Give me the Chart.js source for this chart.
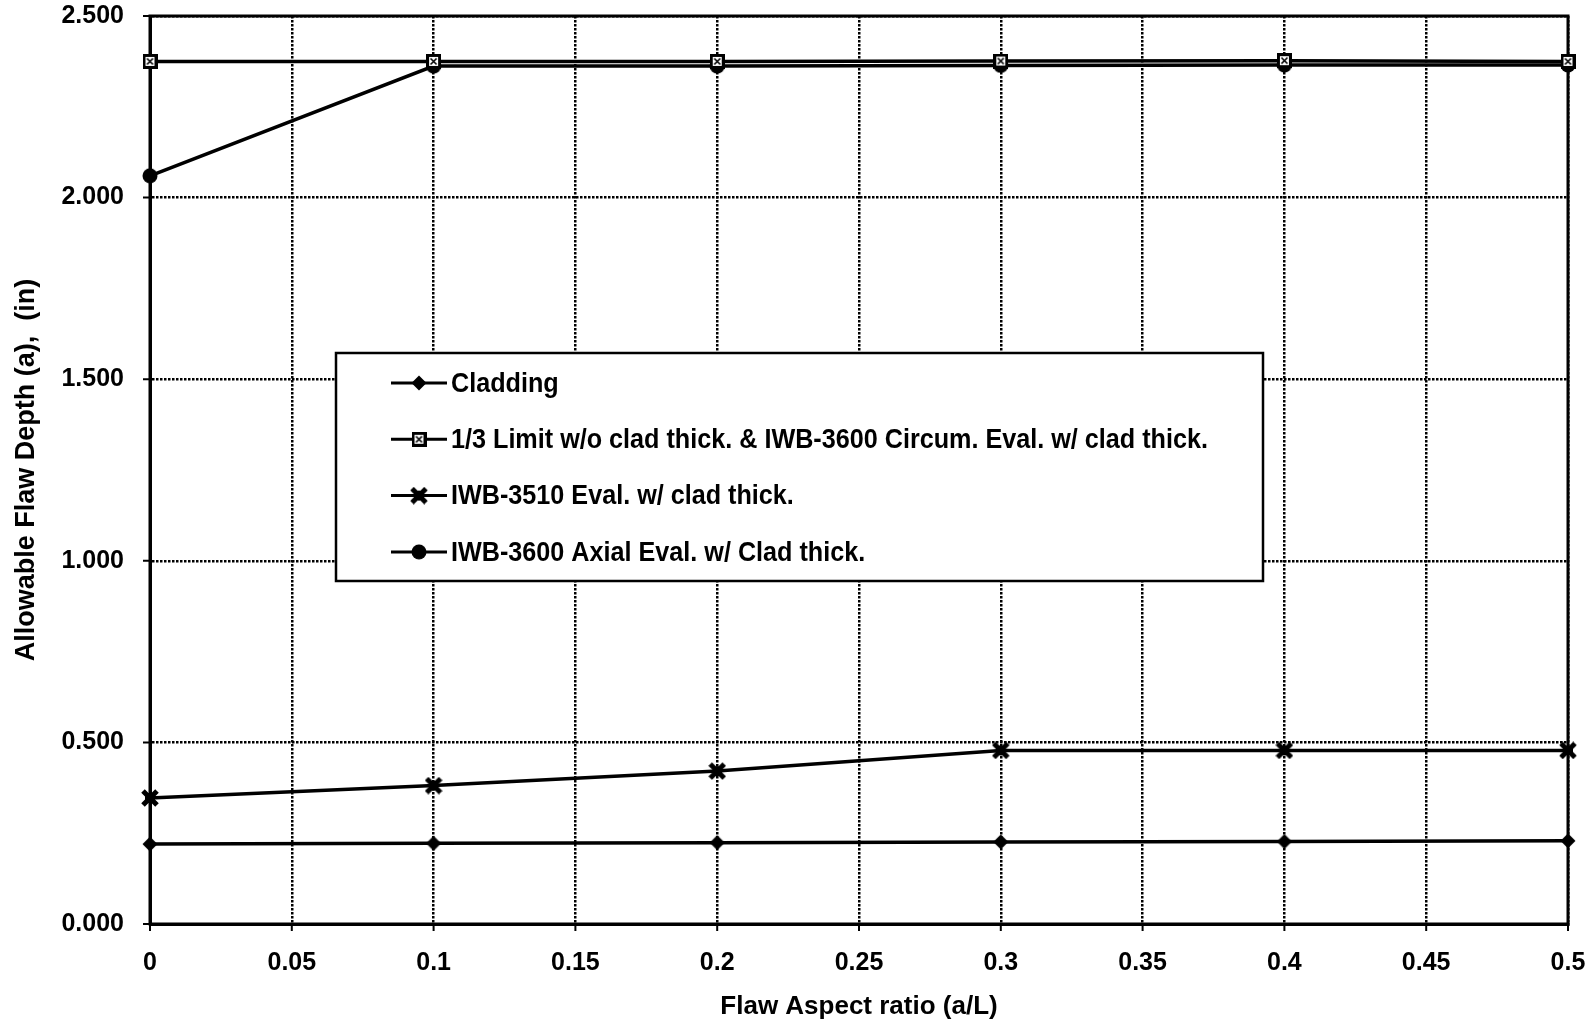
<!DOCTYPE html>
<html>
<head>
<meta charset="utf-8">
<title>Allowable Flaw Depth vs Flaw Aspect Ratio</title>
<script src="https://cdn.jsdelivr.net/npm/chart.js@4.4.1/dist/chart.umd.min.js"></script>
<style>
  html, body { margin: 0; padding: 0; background: #ffffff; }
  #wrap { width: 1594px; height: 1026px; }
  canvas { display: block; }
</style>
</head>
<body>
<div id="wrap"><canvas id="chart" width="1594" height="1026"></canvas></div>
<script>
// Flaw aspect ratio (a/L) at which each evaluation was made
const aspectRatio = [0, 0.1, 0.2, 0.3, 0.4, 0.5];

// Allowable flaw depth (in) for each evaluation
const cladding     = [0.220, 0.222, 0.224, 0.226, 0.227, 0.229];
const oneThirdLim  = [2.375, 2.375, 2.375, 2.376, 2.377, 2.375];
const iwb3510      = [0.347, 0.381, 0.421, 0.478, 0.478, 0.478];
const iwb3600Axial = [2.060, 2.362, 2.362, 2.364, 2.365, 2.365];

const seriesLabels = [
  'Cladding',
  '1/3 Limit w/o clad thick. & IWB-3600 Circum. Eval. w/ clad thick.',
  'IWB-3510 Eval. w/ clad thick.',
  'IWB-3600 Axial Eval. w/ Clad thick.'
];

const xTickStep = 0.05;
const yTickStep = 0.5;
const xRange = [0, 0.5];
const yRange = [0, 2.5];

const FONT = '"Liberation Sans", Arial, Helvetica, sans-serif';
const TICK_MARK = 7;

// ---- marker glyphs drawn on small canvases ----
function markerCanvas(size, paint) {
  const c = document.createElement('canvas');
  c.width = size; c.height = size;
  const g = c.getContext('2d');
  paint(g, size);
  return c;
}
const diamondMark = markerCanvas(16, (g, s) => {
  g.fillStyle = '#000';
  g.beginPath();
  g.moveTo(s / 2, 0.5); g.lineTo(s - 0.5, s / 2);
  g.lineTo(s / 2, s - 0.5); g.lineTo(0.5, s / 2);
  g.closePath(); g.fill();
});
const boxMark = markerCanvas(15, (g, s) => {
  g.fillStyle = '#000';
  g.fillRect(0, 0, s, s);
  g.fillStyle = '#fff';
  g.fillRect(3, 3, s - 6, s - 6);
  g.strokeStyle = '#000'; g.lineWidth = 1.6;
  g.beginPath();
  g.moveTo(4.5, 4.5); g.lineTo(s - 4.5, s - 4.5);
  g.moveTo(s - 4.5, 4.5); g.lineTo(4.5, s - 4.5);
  g.stroke();
});
const starMark = markerCanvas(18, (g, s) => {
  g.strokeStyle = '#000'; g.fillStyle = '#000';
  g.lineWidth = 5; g.lineCap = 'butt';
  g.beginPath();
  g.moveTo(2, 2); g.lineTo(s - 2, s - 2);
  g.moveTo(s - 2, 2); g.lineTo(2, s - 2);
  g.stroke();
  g.fillRect(s / 2 - 5, s / 2 - 5, 10, 10);
});
const dotMark = markerCanvas(16, (g, s) => {
  g.fillStyle = '#000';
  g.beginPath(); g.arc(s / 2, s / 2, s / 2 - 0.5, 0, Math.PI * 2); g.fill();
});

function toPoints(ys) {
  return aspectRatio.map((x, i) => ({ x: x, y: ys[i] }));
}

function series(label, ys, mark) {
  return {
    label: label,
    data: toPoints(ys),
    borderColor: '#000',
    backgroundColor: '#000',
    borderWidth: 3.5,
    pointStyle: mark,
    pointRadius: 8,
    pointHoverRadius: 8,
    tension: 0,
    clip: false
  };
}

// ---- plugins: white page, solid plot frame with short tick marks, boxed legend ----
const pageBackground = {
  id: 'pageBackground',
  beforeDraw(chart) {
    const ctx = chart.ctx;
    ctx.save();
    ctx.fillStyle = '#ffffff';
    ctx.fillRect(0, 0, chart.width, chart.height);
    ctx.restore();
  }
};

const plotFrame = {
  id: 'plotFrame',
  beforeDatasetsDraw(chart) {
    const a = chart.chartArea, ctx = chart.ctx;
    const xs = chart.scales.x, ys = chart.scales.y;
    ctx.save();
    ctx.strokeStyle = '#000';
    ctx.lineWidth = 2;
    ctx.beginPath();
    xs.ticks.forEach(t => {
      const px = xs.getPixelForValue(t.value);
      ctx.moveTo(px, a.bottom);
      ctx.lineTo(px, a.bottom + TICK_MARK);
    });
    ys.ticks.forEach(t => {
      const py = ys.getPixelForValue(t.value);
      ctx.moveTo(a.left - TICK_MARK, py);
      ctx.lineTo(a.left, py);
    });
    ctx.stroke();
    ctx.lineWidth = 3;
    ctx.strokeRect(a.left, a.top, a.right - a.left, a.bottom - a.top);
    ctx.restore();
  }
};

const boxedLegend = {
  id: 'boxedLegend',
  afterDatasetsDraw(chart, args, opts) {
    const ctx = chart.ctx;
    const box = opts.box;
    ctx.save();
    ctx.fillStyle = '#fff';
    ctx.fillRect(box.left, box.top, box.right - box.left, box.bottom - box.top);
    ctx.strokeStyle = '#000';
    ctx.lineWidth = 2.5;
    ctx.strokeRect(box.left, box.top, box.right - box.left, box.bottom - box.top);

    ctx.font = 'bold ' + opts.fontSize + 'px ' + FONT;
    const sets = chart.data.datasets;
    let widest = 0;
    sets.forEach(d => { widest = Math.max(widest, ctx.measureText(d.label).width); });
    const sx = Math.min(1, opts.longestWidth / widest);

    sets.forEach((d, i) => {
      const y = box.top + opts.firstRow + i * opts.rowStep;
      ctx.strokeStyle = '#000';
      ctx.lineWidth = 3;
      ctx.beginPath();
      ctx.moveTo(opts.lineStart, y);
      ctx.lineTo(opts.lineEnd, y);
      ctx.stroke();
      const m = d.pointStyle;
      const mx = (opts.lineStart + opts.lineEnd) / 2;
      ctx.drawImage(m, mx - m.width / 2, y - m.height / 2);

      ctx.save();
      ctx.translate(opts.textStart, y);
      ctx.scale(sx, 1);
      ctx.fillStyle = '#000';
      ctx.textBaseline = 'middle';
      ctx.textAlign = 'left';
      ctx.fillText(d.label, 0, 1);
      ctx.restore();
    });
    ctx.restore();
  }
};

const gridStyle = {
  color: '#000',
  lineWidth: 2.5,
  drawTicks: true,
  tickColor: 'rgba(0,0,0,0)'
};

const ctx = document.getElementById('chart').getContext('2d');
new Chart(ctx, {
  type: 'line',
  data: {
    datasets: [
      series(seriesLabels[0], cladding, diamondMark),
      series(seriesLabels[1], oneThirdLim, boxMark),
      series(seriesLabels[2], iwb3510, starMark),
      series(seriesLabels[3], iwb3600Axial, dotMark)
    ]
  },
  plugins: [pageBackground, plotFrame, boxedLegend],
  options: {
    responsive: false,
    animation: false,
    devicePixelRatio: 1,
    layout: { autoPadding: false, padding: { top: 16, right: 26, left: 0, bottom: 0 } },
    plugins: {
      legend: { display: false },
      tooltip: { enabled: false },
      boxedLegend: {
        box: { left: 336, top: 353, right: 1263, bottom: 581 },
        firstRow: 30,
        rowStep: 56.3,
        lineStart: 391,
        lineEnd: 447,
        textStart: 451,
        fontSize: 28,
        longestWidth: 757
      }
    },
    scales: {
      x: {
        type: 'linear',
        position: 'bottom',
        min: xRange[0],
        max: xRange[1],
        afterFit(scale) { scale.height = 102; },
        border: { display: true, color: '#000', width: 3, dash: [2.5, 1.5] },
        grid: Object.assign({ tickLength: 24 }, gridStyle),
        ticks: {
          stepSize: xTickStep,
          color: '#000',
          padding: 0,
          maxRotation: 0,
          autoSkip: false,
          font: { family: FONT, size: 25, weight: 'bold' },
          callback: v => String(parseFloat(Number(v).toFixed(2)))
        },
        title: {
          display: true,
          text: 'Flaw Aspect ratio (a/L)',
          color: '#000',
          padding: { top: 0, bottom: 4 },
          font: { family: FONT, size: 26, weight: 'bold' }
        }
      },
      y: {
        type: 'linear',
        position: 'left',
        min: yRange[0],
        max: yRange[1],
        afterFit(scale) { scale.width = 150; },
        border: { display: true, color: '#000', width: 3, dash: [2.5, 1.5] },
        grid: Object.assign({ tickLength: 26 }, gridStyle),
        ticks: {
          stepSize: yTickStep,
          color: '#000',
          padding: 0,
          font: { family: FONT, size: 25, weight: 'bold' },
          callback: v => Number(v).toFixed(3)
        },
        title: {
          display: true,
          text: 'Allowable Flaw Depth (a),  (in)',
          color: '#000',
          padding: { top: 10, bottom: 0 },
          font: { family: FONT, size: 27, weight: 'bold' }
        }
      }
    }
  }
});
</script>
</body>
</html>
